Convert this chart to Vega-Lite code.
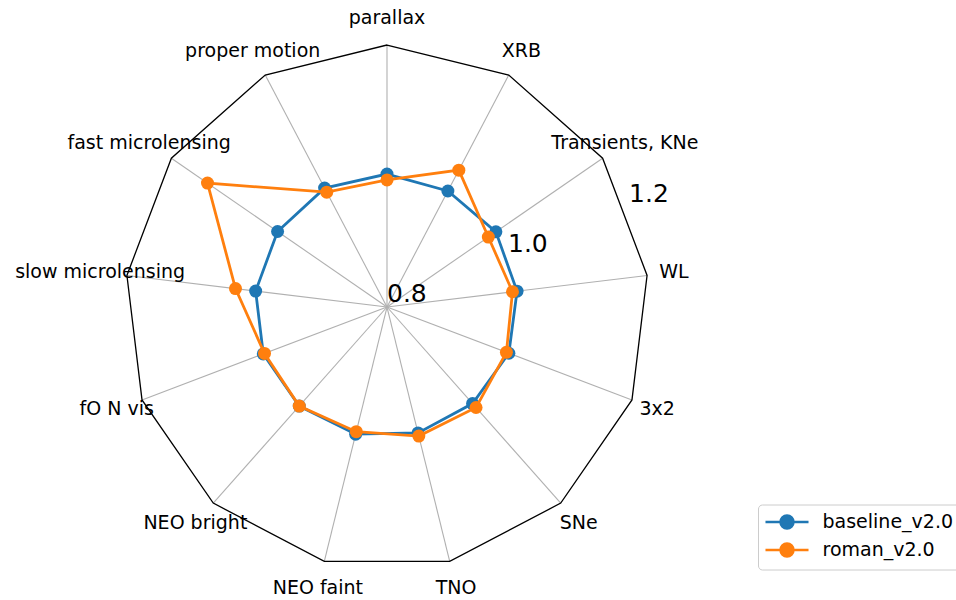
{
  "$schema": "https://vega.github.io/schema/vega-lite/v6.json",
  "width": 956,
  "height": 600,
  "autosize": {"type": "none"},
  "padding": 0,
  "background": "white",
  "config": {
    "view": {"stroke": null},
    "font": "DejaVu Sans",
    "legend": {
      "orient": "none",
      "legendX": 758,
      "legendY": 504.5,
      "padding": 8,
      "strokeColor": "#cccccc",
      "cornerRadius": 4,
      "fillColor": "white",
      "labelFont": "DejaVu Sans",
      "labelFontSize": 19,
      "labelColor": "black",
      "labelLimit": 400,
      "symbolType": "M-3.31,0L3.31,0M1,0C1,0.5523,0.5523,1,0,1C-0.5523,1,-1,0.5523,-1,0C-1,-0.5523,-0.5523,-1,0,-1C0.5523,-1,1,-0.5523,1,0Z",
      "symbolSize": 169,
      "symbolStrokeWidth": 2.5,
      "symbolOffset": 11.5,
      "labelOffset": 26,
      "rowPadding": 5
    }
  },
  "datasets": {
    "metrics": [
      {"metric": "parallax"},
      {"metric": "XRB"},
      {"metric": "Transients, KNe"},
      {"metric": "WL"},
      {"metric": "3x2"},
      {"metric": "SNe"},
      {"metric": "TNO"},
      {"metric": "NEO faint"},
      {"metric": "NEO bright"},
      {"metric": "fO N vis"},
      {"metric": "slow microlensing"},
      {"metric": "fast microlensing"},
      {"metric": "proper motion"}
    ],
    "scores": [
      {"run": "baseline_v2.0", "metric": "parallax", "value": 1.003},
      {"run": "baseline_v2.0", "metric": "XRB", "value": 1.0},
      {"run": "baseline_v2.0", "metric": "Transients, KNe", "value": 1.002},
      {"run": "baseline_v2.0", "metric": "WL", "value": 1.0},
      {"run": "baseline_v2.0", "metric": "3x2", "value": 0.999},
      {"run": "baseline_v2.0", "metric": "SNe", "value": 0.997},
      {"run": "baseline_v2.0", "metric": "TNO", "value": 0.998},
      {"run": "baseline_v2.0", "metric": "NEO faint", "value": 1.0},
      {"run": "baseline_v2.0", "metric": "NEO bright", "value": 1.002},
      {"run": "baseline_v2.0", "metric": "fO N vis", "value": 1.002},
      {"run": "baseline_v2.0", "metric": "slow microlensing", "value": 1.002},
      {"run": "baseline_v2.0", "metric": "fast microlensing", "value": 1.003},
      {"run": "baseline_v2.0", "metric": "proper motion", "value": 1.005},
      {"run": "roman_v2.0", "metric": "parallax", "value": 0.994},
      {"run": "roman_v2.0", "metric": "XRB", "value": 1.036},
      {"run": "roman_v2.0", "metric": "Transients, KNe", "value": 0.988},
      {"run": "roman_v2.0", "metric": "WL", "value": 0.993},
      {"run": "roman_v2.0", "metric": "3x2", "value": 0.995},
      {"run": "roman_v2.0", "metric": "SNe", "value": 1.005},
      {"run": "roman_v2.0", "metric": "TNO", "value": 1.003},
      {"run": "roman_v2.0", "metric": "NEO faint", "value": 0.996},
      {"run": "roman_v2.0", "metric": "NEO bright", "value": 1.002},
      {"run": "roman_v2.0", "metric": "fO N vis", "value": 1.0},
      {"run": "roman_v2.0", "metric": "slow microlensing", "value": 1.033},
      {"run": "roman_v2.0", "metric": "fast microlensing", "value": 1.133},
      {"run": "roman_v2.0", "metric": "proper motion", "value": 0.998}
    ],
    "ticks": [
      {"tick": 0.8, "label": "0.8"},
      {"tick": 1.0, "label": "1.0"},
      {"tick": 1.2, "label": "1.2"}
    ],
    "rings": [
      {"ring": 1.0}
    ]
  },
  "encoding": {
    "x": {"field": "x", "type": "quantitative", "scale": {"domain": [-1.4771, 2.1718], "nice": false, "zero": false}, "axis": null},
    "y": {"field": "y", "type": "quantitative", "scale": {"domain": [-1.1183, 1.1718], "nice": false, "zero": false}, "axis": null}
  },
  "layer": [
    {
      "data": {"name": "metrics"},
      "transform": [
        {"window": [{"op": "row_number", "as": "k"}]},
        {"calculate": "(datum.k - 1) * 2 * PI / 13", "as": "theta"},
        {"calculate": "sin(datum.theta)", "as": "x"},
        {"calculate": "cos(datum.theta)", "as": "y"}
      ],
      "mark": {"type": "rule", "color": "#b0b0b0", "strokeWidth": 1.1},
      "encoding": {
        "x2": {"datum": 0},
        "y2": {"datum": 0}
      }
    },
    {
      "data": {"name": "rings"},
      "mark": {"type": "point", "shape": "circle", "filled": false, "size": 68644, "stroke": "#b0b0b0", "strokeWidth": 1.1, "opacity": 1},
      "encoding": {
        "x": {"datum": 0, "type": "quantitative", "scale": {"domain": [-1.4771, 2.1718], "nice": false, "zero": false}, "axis": null},
        "y": {"datum": 0, "type": "quantitative", "scale": {"domain": [-1.1183, 1.1718], "nice": false, "zero": false}, "axis": null}
      }
    },
    {
      "data": {"name": "metrics"},
      "transform": [
        {"window": [{"op": "row_number", "as": "k"}]},
        {"calculate": "(datum.k - 1) * 2 * PI / 13", "as": "theta"},
        {"calculate": "sin(datum.theta)", "as": "x"},
        {"calculate": "cos(datum.theta)", "as": "y"}
      ],
      "mark": {"type": "line", "interpolate": "linear-closed", "color": "black", "strokeWidth": 1.3},
      "encoding": {
        "order": {"field": "k", "type": "quantitative"}
      }
    },
    {
      "data": {"name": "scores"},
      "transform": [
        {"window": [{"op": "row_number", "as": "k"}], "groupby": ["run"]},
        {"calculate": "(datum.k - 1) * 2 * PI / 13", "as": "theta"},
        {"calculate": "(datum.value - 0.8) / 0.4", "as": "r"},
        {"calculate": "datum.r * sin(datum.theta)", "as": "x"},
        {"calculate": "datum.r * cos(datum.theta)", "as": "y"},
        {"filter": "datum.run === 'baseline_v2.0'"}
      ],
      "mark": {"type": "line", "interpolate": "linear-closed", "strokeWidth": 2.8},
      "encoding": {
        "order": {"field": "k", "type": "quantitative"},
        "color": {
          "field": "run", "type": "nominal",
          "scale": {"domain": ["baseline_v2.0", "roman_v2.0"], "range": ["#1f77b4", "#ff7f0e"]},
          "legend": {
            "title": null,
            "encode": {
              "symbols": {
                "update": {
                  "fill": {"scale": "color", "field": "value"},
                  "stroke": {"scale": "color", "field": "value"},
                  "strokeWidth": {"value": 2.5},
                  "opacity": {"value": 1}
                }
              }
            }
          }
        }
      }
    },
    {
      "data": {"name": "scores"},
      "transform": [
        {"window": [{"op": "row_number", "as": "k"}], "groupby": ["run"]},
        {"calculate": "(datum.k - 1) * 2 * PI / 13", "as": "theta"},
        {"calculate": "(datum.value - 0.8) / 0.4", "as": "r"},
        {"calculate": "datum.r * sin(datum.theta)", "as": "x"},
        {"calculate": "datum.r * cos(datum.theta)", "as": "y"},
        {"filter": "datum.run === 'baseline_v2.0'"}
      ],
      "mark": {"type": "point", "shape": "circle", "filled": true, "size": 169, "opacity": 1},
      "encoding": {
        "color": {"field": "run", "type": "nominal", "scale": {"domain": ["baseline_v2.0", "roman_v2.0"], "range": ["#1f77b4", "#ff7f0e"]}, "legend": {"title": null}}
      }
    },
    {
      "data": {"name": "scores"},
      "transform": [
        {"window": [{"op": "row_number", "as": "k"}], "groupby": ["run"]},
        {"calculate": "(datum.k - 1) * 2 * PI / 13", "as": "theta"},
        {"calculate": "(datum.value - 0.8) / 0.4", "as": "r"},
        {"calculate": "datum.r * sin(datum.theta)", "as": "x"},
        {"calculate": "datum.r * cos(datum.theta)", "as": "y"},
        {"filter": "datum.run === 'roman_v2.0'"}
      ],
      "mark": {"type": "line", "interpolate": "linear-closed", "strokeWidth": 2.8},
      "encoding": {
        "order": {"field": "k", "type": "quantitative"},
        "color": {"field": "run", "type": "nominal", "scale": {"domain": ["baseline_v2.0", "roman_v2.0"], "range": ["#1f77b4", "#ff7f0e"]}, "legend": {"title": null}}
      }
    },
    {
      "data": {"name": "scores"},
      "transform": [
        {"window": [{"op": "row_number", "as": "k"}], "groupby": ["run"]},
        {"calculate": "(datum.k - 1) * 2 * PI / 13", "as": "theta"},
        {"calculate": "(datum.value - 0.8) / 0.4", "as": "r"},
        {"calculate": "datum.r * sin(datum.theta)", "as": "x"},
        {"calculate": "datum.r * cos(datum.theta)", "as": "y"},
        {"filter": "datum.run === 'roman_v2.0'"}
      ],
      "mark": {"type": "point", "shape": "circle", "filled": true, "size": 169, "opacity": 1},
      "encoding": {
        "color": {"field": "run", "type": "nominal", "scale": {"domain": ["baseline_v2.0", "roman_v2.0"], "range": ["#1f77b4", "#ff7f0e"]}, "legend": {"title": null}}
      }
    },
    {
      "data": {"name": "ticks"},
      "transform": [
        {"calculate": "(datum.tick - 0.8) / 0.4", "as": "r"},
        {"calculate": "datum.r * cos(PI / 8)", "as": "x"},
        {"calculate": "datum.r * sin(PI / 8)", "as": "y"}
      ],
      "mark": {"type": "text", "align": "left", "baseline": "bottom", "fontSize": 25, "color": "black", "font": "DejaVu Sans"},
      "encoding": {
        "text": {"field": "label"}
      }
    },
    {
      "data": {"name": "metrics"},
      "transform": [
        {"window": [{"op": "row_number", "as": "k"}]},
        {"calculate": "(datum.k - 1) * 2 * PI / 13", "as": "theta"},
        {"calculate": "1.103 * sin(datum.theta)", "as": "x"},
        {"calculate": "1.103 * cos(datum.theta)", "as": "y"}
      ],
      "mark": {"type": "text", "align": "center", "baseline": "middle", "fontSize": 19, "color": "black", "font": "DejaVu Sans"},
      "encoding": {
        "text": {"field": "metric"}
      }
    }
  ]
}
